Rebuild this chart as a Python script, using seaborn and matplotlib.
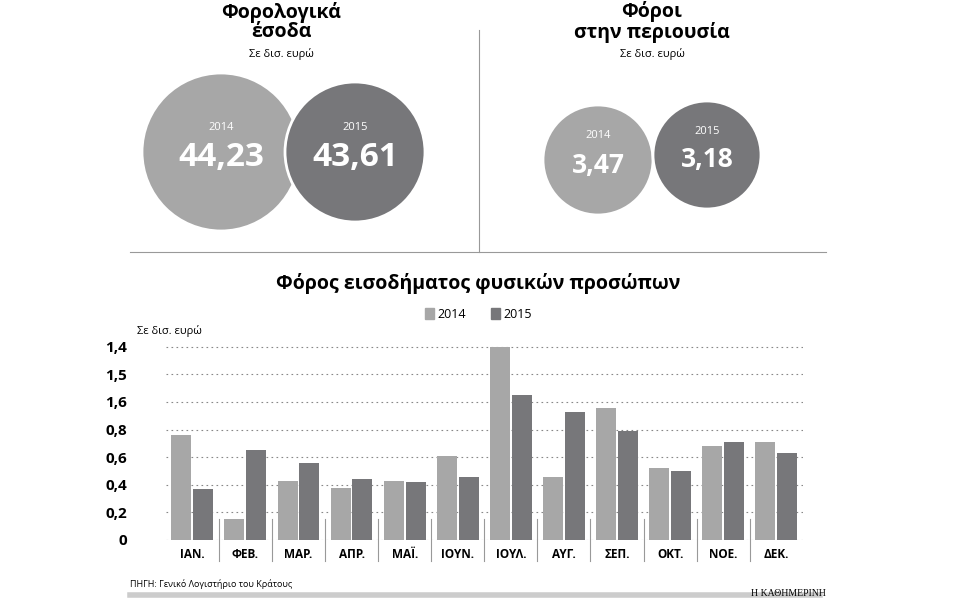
import numpy as np
import pandas as pd
import matplotlib
matplotlib.use("Agg")
import matplotlib.pyplot as plt
from matplotlib.patches import Circle
import seaborn as sns

# Δεδομένα
months = ['ΙΑΝ.', 'ΦΕΒ.', 'ΜΑΡ.', 'ΑΠΡ.', 'ΜΑΪ.', 'ΙΟΥΝ.', 'ΙΟΥΛ.', 'ΑΥΓ.', 'ΣΕΠ.', 'ΟΚΤ.', 'ΝΟΕ.', 'ΔΕΚ.']
vals_2014 = [0.76, 0.15, 0.43, 0.38, 0.43, 0.61, 1.40, 0.46, 0.96, 0.52, 0.68, 0.71]
vals_2015 = [0.37, 0.65, 0.56, 0.44, 0.42, 0.46, 1.05, 0.93, 0.79, 0.50, 0.71, 0.63]
ytick_vals = [0, 0.2, 0.4, 0.6, 0.8, 1.0, 1.2, 1.4]
ytick_labels = ['0', '0,2', '0,4', '0,6', '0,8', '1,6', '1,5', '1,4']

tax_years = ['2014', '2015']
tax_revenue = ['44,23', '43,61']
property_tax = ['3,47', '3,18']

c14 = '#a7a7a7'
c15 = '#77777a'
plt.rcParams['font.family'] = 'Open Sans'

df = pd.DataFrame({'month': months * 2,
                   'value': vals_2014 + vals_2015,
                   'year': ['2014'] * 12 + ['2015'] * 12})

fig = plt.figure(figsize=(9.58, 5.98), dpi=100)

# Πλαίσιο σε pixel για κείμενα και κύκλους
bg = fig.add_axes([0, 0, 1, 1])
bg.set_xlim(0, 958)
bg.set_ylim(598, 0)
bg.axis('off')

bg.text(281, 22, 'Φορολογικά\nέσοδα', ha='center', va='center', fontsize=14, fontweight='bold', linespacing=0.95)
bg.text(281, 54, 'Σε δισ. ευρώ', ha='center', va='center', fontsize=8)
bg.text(652, 22, 'Φόροι\nστην περιουσία', ha='center', va='center', fontsize=14, fontweight='bold', linespacing=0.95)
bg.text(652, 54, 'Σε δισ. ευρώ', ha='center', va='center', fontsize=8)

circles = [(221, 152, 79, c14), (355, 152, 70, c15), (598, 160, 55, c14), (707, 155, 54, c15)]
texts = [tax_revenue[0], tax_revenue[1], property_tax[0], property_tax[1]]
for (cx, cy, r, col), t, yr in zip(circles, texts, tax_years * 2):
    bg.add_patch(Circle((cx, cy), r, facecolor=col, edgecolor='white', lw=2))
    big = r > 60
    bg.text(cx, cy - 24, yr, ha='center', va='center', color='white', fontsize=8)
    bg.text(cx, cy + 5, t, ha='center', va='center', color='white', fontweight='bold',
            fontsize=24 if big else 19)

bg.plot([479, 479], [30, 252], color='#999999', lw=0.8)
bg.plot([130, 826], [252, 252], color='#999999', lw=0.8)

bg.text(478, 284, 'Φόρος εισοδήματος φυσικών προσώπων', ha='center', va='center', fontsize=14, fontweight='bold')
bg.text(137, 331, 'Σε δισ. ευρώ', ha='left', va='center', fontsize=8)
bg.plot([130, 820], [595, 595], color='#cccccc', lw=4)
bg.text(130, 584, 'ΠΗΓΗ: Γενικό Λογιστήριο του Κράτους', ha='left', va='center', fontsize=6.5)
bg.text(826, 594, 'Η ΚΑΘΗΜΕΡΙΝΗ', ha='right', va='center', fontsize=7, family='Liberation Serif')

# Ραβδόγραμμα
ax = fig.add_axes([0.173, 0.097, 0.665, 0.33])
sns.barplot(data=df, x='month', y='value', hue='year', palette=[c14, c15],
            width=0.82, gap=0.08, ax=ax, legend=False)
ax.set_ylim(0, 1.43)
ax.set_xlim(-0.5, 11.5)
ax.set_yticks(ytick_vals)
ax.set_yticklabels(ytick_labels, fontsize=11, fontweight='bold')
ax.tick_params(axis='y', length=0, pad=28)
ax.tick_params(axis='x', length=0, labelsize=8.5, pad=6)
for lab in ax.get_xticklabels():
    lab.set_fontweight('bold')
ax.set_xlabel('')
ax.set_ylabel('')
for y in ytick_vals:
    ax.axhline(y, color='#888888', lw=0.8, ls=(0, (1.5, 3)), zorder=0)
for s in ax.spines.values():
    s.set_visible(False)
for i in range(11):
    ax.plot([i + 0.5, i + 0.5], [0.15, -0.15], color='#999999', lw=0.8, clip_on=False)

# Υπόμνημα
bg.add_patch(plt.Rectangle((425, 308), 9, 11, color=c14))
bg.text(437, 314, '2014', ha='left', va='center', fontsize=9)
bg.add_patch(plt.Rectangle((491, 308), 9, 11, color=c15))
bg.text(503, 314, '2015', ha='left', va='center', fontsize=9)

fig.savefig('out.png', dpi=100)
